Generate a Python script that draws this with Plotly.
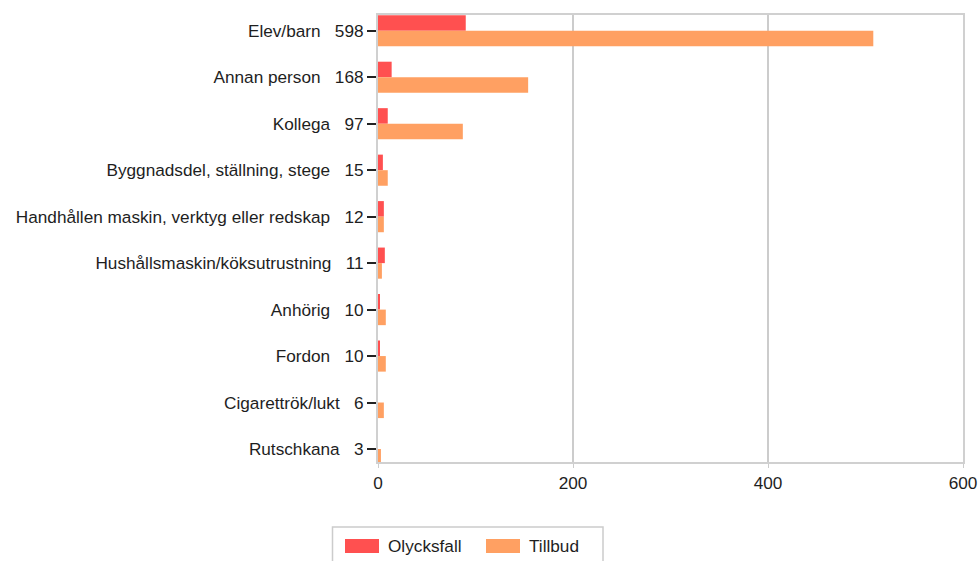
import plotly.graph_objects as go

categories = ["Elev/barn", "Annan person", "Kollega", "Byggnadsdel, ställning, stege",
              "Handhållen maskin, verktyg eller redskap", "Hushållsmaskin/köksutrustning",
              "Anhörig", "Fordon", "Cigarettrök/lukt", "Rutschkana"]
olycksfall = [90, 14, 10, 5, 6, 7, 2, 2, 0, 0]
tillbud = [508, 154, 87, 10, 6, 4, 8, 8, 6, 3]
totals = [598, 168, 97, 15, 12, 11, 10, 10, 6, 3]
x_ticks = [0, 200, 400, 600]
series_names = ["Olycksfall", "Tillbud"]
series_colors = ["#ff5050", "#ffa062"]

FONT = "Liberation Sans, Arial, sans-serif"
FS = 17.2
TXT = "#1e1e1e"
NB = "\u00a0"
ticktext = [f"{c}{NB*3}{t}" for c, t in zip(categories, totals)]

W, H = 978, 561
L, R, T, B = 378, 15, 15, 99
PW, PH = W - L - R, H - T - B


def px_x(p):
    return (p - L) / PW


def px_y(p):
    return (H - B - p) / PH


fig = go.Figure()
for name, vals, col in zip(series_names, [olycksfall, tillbud], series_colors):
    fig.add_trace(go.Bar(y=categories, x=vals, name=name, orientation="h",
                         marker=dict(color=col, line=dict(width=0)), showlegend=False))

# custom legend (wide swatches like the reference)
shapes = [dict(type="rect", xref="paper", yref="paper",
               x0=px_x(332.5), x1=px_x(603), y0=px_y(527), y1=px_y(575),
               line=dict(color="#cccccc", width=1.5), fillcolor="white", layer="below")]
annotations = []
sw_left = [345, 486]
for i, (name, col) in enumerate(zip(series_names, series_colors)):
    x0 = sw_left[i]
    shapes.append(dict(type="rect", xref="paper", yref="paper",
                       x0=px_x(x0), x1=px_x(x0 + 34), y0=px_y(553), y1=px_y(539),
                       line=dict(width=0), fillcolor=col))
    annotations.append(dict(text=name, xref="paper", yref="paper", x=px_x(x0 + 41),
                            y=px_y(546), xanchor="left", yanchor="middle", showarrow=False,
                            font=dict(family=FONT, size=FS, color=TXT)))

fig.update_layout(
    width=W, height=H,
    margin=dict(l=L, r=R, t=T, b=B, autoexpand=False),
    paper_bgcolor="white", plot_bgcolor="white",
    barmode="group", bargap=0.33, bargroupgap=0,
    font=dict(family=FONT, size=FS, color=TXT),
    showlegend=False,
    shapes=shapes, annotations=annotations,
)
fig.update_xaxes(range=[0, 600], tickvals=x_ticks, ticktext=[str(v) for v in x_ticks],
                 showgrid=True, gridcolor="#cccccc", gridwidth=1.5,
                 showline=True, linecolor="#d0d0d0", linewidth=2, mirror=True,
                 ticks="outside", ticklen=4, tickcolor="#cccccc", zeroline=False,
                 automargin=False, fixedrange=True)
fig.update_yaxes(type="category", categoryorder="array", categoryarray=categories,
                 tickvals=categories, ticktext=ticktext,
                 range=[9.28, -0.34],
                 showline=True, linecolor="#d0d0d0", linewidth=2, mirror=True,
                 ticks="outside", ticklen=9, tickcolor="#222222", tickwidth=1.5,
                 showgrid=False, zeroline=False, automargin=False, fixedrange=True)

fig.write_html("out.html")
